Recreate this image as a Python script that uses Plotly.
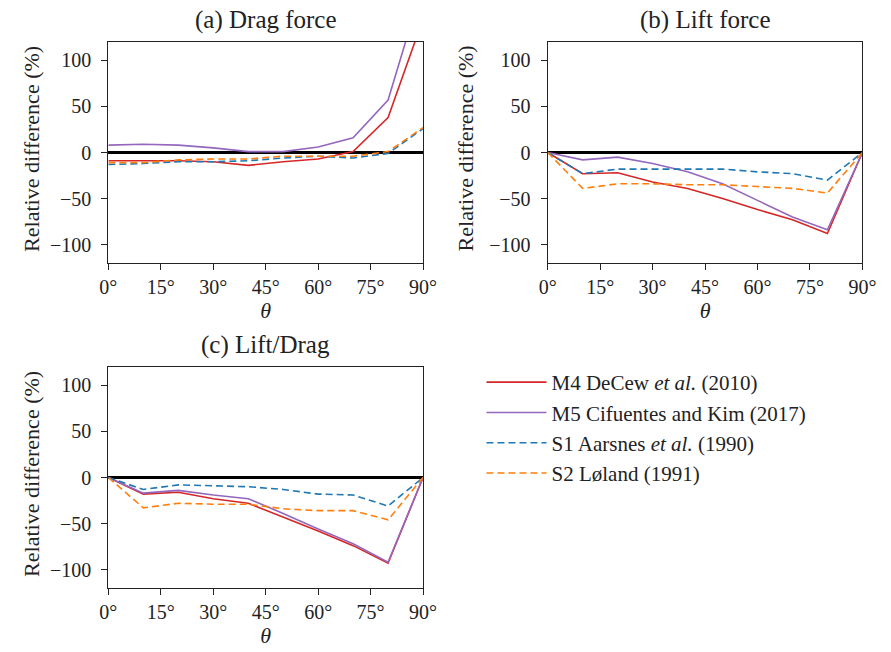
import plotly.graph_objects as go

W, H = 891, 652

theta = [0, 10, 20, 30, 40, 50, 60, 70, 80, 90]

# (a) Drag force
drag_m4 = [-9, -9, -9, -10, -14, -10, -7, 1, 38, 145]
drag_m5 = [8, 9, 8, 5, 1, 1, 6, 16, 57, 183]
drag_s1 = [-13, -12, -10, -10, -9, -6, -4, -6, -1, 26]
drag_s2 = [-11, -11, -8, -7, -7, -4, -4, -4, 1, 27]

# (b) Lift force
lift_m4 = [0, -23, -22, -32, -39, -50, -62, -73, -88, 0]
lift_m5 = [0, -8, -5, -12, -21, -34, -52, -70, -84, 0]
lift_s1 = [0, -23, -18, -18, -18, -18, -21, -23, -30, 0]
lift_s2 = [0, -39, -34, -34, -35, -35, -37, -39, -44, 0]

# (c) Lift/Drag
ld_m4 = [0, -18, -16, -23, -28, -43, -58, -74, -93, 0]
ld_m5 = [0, -17, -14, -19, -23, -39, -56, -72, -92, 0]
ld_s1 = [0, -13, -8, -9, -10, -13, -18, -19, -31, 0]
ld_s2 = [0, -33, -28, -29, -29, -34, -36, -36, -46, 0]

names = ["M4 DeCew <i>et al.</i> (2010)", "M5 Cifuentes and Kim (2017)",
         "S1 Aarsnes <i>et al.</i> (1990)", "S2 Løland (1991)"]
colors = ["#d62728", "#9467bd", "#1f77b4", "#ff7f0e"]
dashes = ["solid", "solid", "7px,4px", "7px,4px"]

x_ticks = [0, 15, 30, 45, 60, 75, 90]
x_ticktext = ["0°", "15°", "30°", "45°", "60°", "75°", "90°"]
y_ticks = [-100, -50, 0, 50, 100]
y_ticktext = ["−100", "−50", "0", "50", "100"]

panels = [
    ("(a) Drag force", [drag_m4, drag_m5, drag_s1, drag_s2], (102, 425, 42, 263)),
    ("(b) Lift force", [lift_m4, lift_m5, lift_s1, lift_s2], (553, 876, 42, 263)),
    ("(c) Lift/Drag", [ld_m4, ld_m5, ld_s1, ld_s2], (102, 425, 367, 588)),
]

FONT = "Liberation Serif"
fig = go.Figure()
annotations = []
layout = {}
for i, (title, series, (x0, x1, y0, y1)) in enumerate(panels):
    k = "" if i == 0 else str(i + 1)
    for j, ys in enumerate(series):
        fig.add_trace(go.Scatter(
            x=theta, y=ys, mode="lines", name=names[j],
            line=dict(color=colors[j], width=1.6, dash=dashes[j]),
            showlegend=(i == 0), legendgroup=str(j),
            xaxis="x" + k, yaxis="y" + k))
    layout["xaxis" + k] = dict(
        domain=[x0 / W, x1 / W], range=[0, 90], anchor="y" + k,
        tickvals=x_ticks, ticktext=x_ticktext, ticks="outside", ticklen=6,
        tickwidth=1.3, tickcolor="#222", showline=True, linecolor="#222",
        linewidth=1.3, mirror=True, showgrid=False, zeroline=False,
        tickfont=dict(family=FONT, size=20, color="#222"),
        title=dict(text="<i>θ</i>", font=dict(family=FONT, size=22, color="#222"),
                   standoff=4))
    layout["yaxis" + k] = dict(
        domain=[1 - y1 / H, 1 - y0 / H], range=[-120, 120], anchor="x" + k,
        tickvals=y_ticks, ticktext=y_ticktext, ticks="outside", ticklen=6,
        tickwidth=1.3, tickcolor="#222", showline=True, linecolor="#222",
        linewidth=1.3, mirror=True, showgrid=False, ticklabelstandoff=6,
        zeroline=True, zerolinecolor="black", zerolinewidth=3,
        tickfont=dict(family=FONT, size=20, color="#222"))
    annotations.append(dict(
        text=title, x=(x0 + x1) / 2 / W, y=1 - (y0 - 6) / H,
        xref="paper", yref="paper", xanchor="center", yanchor="bottom",
        showarrow=False, font=dict(family=FONT, size=25, color="#222")))
    xt = 23 if x0 < 300 else 23 + 446
    annotations.append(dict(
        text="Relative difference (%)", x=xt / W, y=1 - ((y0 + y1) / 2 - 4) / H,
        xref="paper", yref="paper", xanchor="center", yanchor="middle",
        textangle=-90, showarrow=False,
        font=dict(family=FONT, size=22, color="#222")))

fig.update_layout(
    width=W, height=H, margin=dict(l=0, r=0, t=0, b=0),
    paper_bgcolor="white", plot_bgcolor="white",
    font=dict(family=FONT),
    annotations=annotations,
    legend=dict(x=485 / W, y=1 - 362 / H, xanchor="left", yanchor="top",
                font=dict(family=FONT, size=21, color="#222"),
                bgcolor="rgba(0,0,0,0)", tracegroupgap=0, itemwidth=60),
    **layout)

fig.write_html("out.html")
